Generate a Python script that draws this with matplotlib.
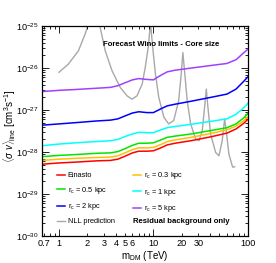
import numpy as np
import matplotlib
matplotlib.use("Agg")
import matplotlib.pyplot as plt
from matplotlib.ticker import FixedLocator, NullFormatter, LogFormatterSciNotation

plt.rcParams["font.family"] = ["Liberation Sans", "DejaVu Sans"]
plt.rcParams["mathtext.fontset"] = "custom"
plt.rcParams["mathtext.rm"] = "Liberation Sans"
plt.rcParams["mathtext.it"] = "Liberation Sans:italic"
plt.rcParams["mathtext.bf"] = "Liberation Sans:bold"

# DM mass grid (TeV) shared by the core-size curves
mass = [0.66, 1.0, 1.5, 2.5, 3.5, 4.2, 5.0, 6.0, 7.0, 8.5, 10.0, 12.0, 14.0,
        17.0, 25.0, 40.0, 60.0, 75.0, 90.0, 100.0]

# log10 of <sigma v>_line limits
einasto_log = [-28.29, -28.26, -28.24, -28.21, -28.20, -28.17, -28.10, -28.02, -27.98, -27.98,
               -27.97, -27.90, -27.83, -27.79, -27.73, -27.64, -27.55, -27.45, -27.32, -27.22]
rc03_log = [-28.20, -28.17, -28.15, -28.13, -28.12, -28.09, -28.02, -27.94, -27.90, -27.90,
            -27.89, -27.82, -27.75, -27.71, -27.65, -27.56, -27.47, -27.38, -27.26, -27.16]
rc05_log = [-28.11, -28.08, -28.06, -28.03, -28.02, -27.99, -27.92, -27.84, -27.79, -27.79,
            -27.78, -27.71, -27.65, -27.62, -27.57, -27.49, -27.42, -27.33, -27.19, -27.08]
rc1_log = [-27.85, -27.81, -27.78, -27.75, -27.73, -27.70, -27.63, -27.57, -27.53, -27.54,
           -27.54, -27.47, -27.42, -27.39, -27.34, -27.27, -27.21, -27.10, -26.95, -26.84]
rc2_log = [-27.36, -27.33, -27.30, -27.26, -27.24, -27.21, -27.14, -27.07, -27.04, -27.06,
           -27.06, -26.97, -26.90, -26.86, -26.79, -26.70, -26.62, -26.50, -26.32, -26.21]
rc5_log = [-26.56, -26.53, -26.51, -26.48, -26.46, -26.42, -26.35, -26.28, -26.25, -26.27,
           -26.28, -26.17, -26.09, -26.05, -26.00, -25.94, -25.89, -25.80, -25.64, -25.55]

# NLL wino prediction (Sommerfeld resonances)
nll_mass = [1.0, 1.256, 1.605, 1.89, 2.05, 2.3, 2.68, 3.09, 3.64, 4.45, 5.25, 5.93, 6.7,
            7.6, 8.2, 8.9, 9.3, 9.75, 10.5, 11.4, 12.9, 14.5, 16.4, 18.5, 19.7, 20.5, 21.5,
            22.8, 24.8, 28.0, 30.4, 32.9, 34.8, 36.3, 37.8, 40.3, 45.6, 49.4, 53.5, 56.8,
            59.6, 63.0, 69.0, 72.6]
nll_log = [-26.10, -25.905, -25.59, -25.19, -24.95, -24.4, -24.95, -25.59, -26.06, -26.46,
           -26.66, -26.74, -26.66, -26.38, -25.98, -25.43, -24.9, -25.43, -26.14, -26.70,
           -27.17, -27.33, -27.25, -26.78, -26.14, -25.63, -26.14, -26.78, -27.33, -27.69,
           -27.73, -27.49, -26.94, -26.50, -26.94, -27.57, -28.01, -28.09, -27.73, -27.21,
           -27.57, -28.05, -28.36, -28.35]

series = [
    ("Einasto", einasto_log, "#ff0000"),
    (r"r$_{\rm c}$ = 0.5 kpc", rc05_log, "#00e600"),
    (r"r$_{\rm c}$ = 2 kpc", rc2_log, "#0000ff"),
    (r"r$_{\rm c}$ = 0.3 kpc", rc03_log, "#ffc000"),
    (r"r$_{\rm c}$ = 1 kpc", rc1_log, "#00ffff"),
    (r"r$_{\rm c}$ = 5 kpc", rc5_log, "#a040ff"),
]

fig = plt.figure(figsize=(2.76, 2.63), dpi=100)
ax = fig.add_axes([0.152, 0.1027, 0.746, 0.798])

nll_line, = ax.plot(nll_mass, 10.0 ** np.array(nll_log), color="#a8a8a8", lw=1.0,
                    label="NLL prediction", zorder=1)
handles = {}
for label, vals, color in series:
    h, = ax.plot(mass, 10.0 ** np.array(vals), color=color, lw=1.1, label=label, zorder=2)
    handles[label] = h

ax.set_xscale("log")
ax.set_yscale("log")
ax.set_xlim(0.66, 100)
ax.set_ylim(1e-30, 1e-25)

# x ticks: long at decades, labelled minor ticks in between
ax.xaxis.set_major_locator(FixedLocator([1, 10, 100]))
ax.set_xticklabels(["1", "10", "100"])
minor_x = [0.7, 0.8, 0.9, 2, 3, 4, 5, 6, 7, 8, 9, 20, 30, 40, 50, 60, 70, 80, 90]
minor_lbl = ["0.7", "", "", "2", "3", "4", "5", "6", "", "", "", "20", "30",
             "", "", "", "", "", ""]
ax.set_xticks(minor_x, minor=True)
ax.set_xticklabels(minor_lbl, minor=True)

y_major = [1e-30, 1e-29, 1e-28, 1e-27, 1e-26, 1e-25]
y_minor = [k * d for d in y_major[:-1] for k in range(2, 10)]
ax.yaxis.set_major_locator(FixedLocator(y_major))
ax.yaxis.set_major_formatter(LogFormatterSciNotation())
ax.yaxis.set_minor_locator(FixedLocator(y_minor))
ax.yaxis.set_minor_formatter(NullFormatter())

ax.tick_params(which="both", direction="in", top=True, right=True, labelsize=6.6, width=0.6,
               pad=2)
ax.tick_params(which="major", length=5)
ax.tick_params(which="minor", length=2.5)
for s in ax.spines.values():
    s.set_linewidth(0.9)

ax.set_xlabel(r"m$_{\rm DM}$ (TeV)", fontsize=7, labelpad=1)
fig.text(0.036, 0.52, r"$\langle\sigma\ v\rangle_{\rm line}\ [\rm cm^{3}s^{-1}]$",
         fontsize=7, rotation=90, ha="center", va="center")

order = ["Einasto", r"r$_{\rm c}$ = 0.5 kpc", r"r$_{\rm c}$ = 2 kpc"]
leg_h = [handles[k] for k in order] + [nll_line] + \
        [handles[k] for k in [r"r$_{\rm c}$ = 0.3 kpc", r"r$_{\rm c}$ = 1 kpc", r"r$_{\rm c}$ = 5 kpc"]]
ax.legend(handles=leg_h, ncol=2, fontsize=5.3, frameon=False, handlelength=1.1,
          handletextpad=0.4, columnspacing=2.4, labelspacing=0.75,
          loc="lower left", bbox_to_anchor=(0.04, 0.02))

ax.text(0.296, 0.914, "Forecast Wino limits - Core size", transform=ax.transAxes,
        fontsize=5.6, fontweight="bold", va="center", ha="left")
ax.text(0.442, 0.071, "Residual background only", transform=ax.transAxes,
        fontsize=5.6, fontweight="bold", va="center", ha="left")

fig.savefig("out.png", dpi=100)
